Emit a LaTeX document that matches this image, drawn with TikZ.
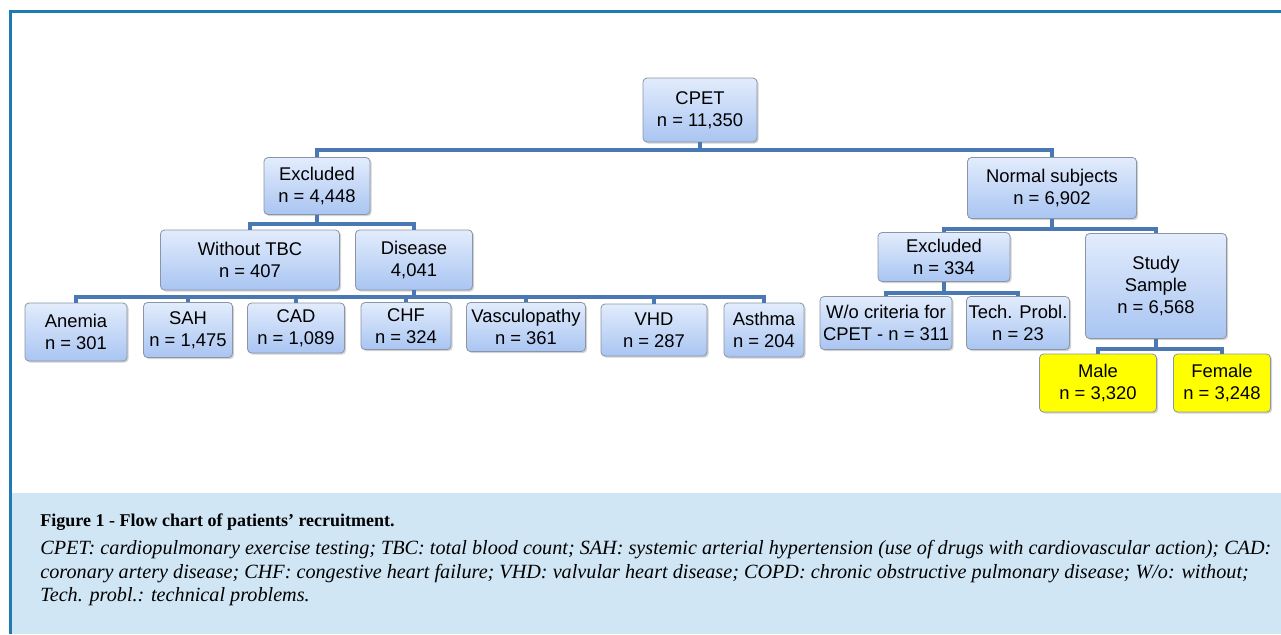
\documentclass[tikz,border=0pt]{standalone}
\usepackage{fontspec}
\setmainfont{Liberation Serif}
\setsansfont{Liberation Sans}
\usetikzlibrary{shadows}

\definecolor{frameblue}{HTML}{1F7AB0}
\definecolor{capbg}{HTML}{D0E6F5}
\definecolor{linkblue}{HTML}{4A78B2}
\definecolor{boxtop}{HTML}{E2ECFC}
\definecolor{boxbot}{HTML}{A9C5F2}
\definecolor{boxline}{HTML}{8A95A5}
\definecolor{hiyellow}{HTML}{FFFF00}

\begin{document}
\begin{tikzpicture}[x=0.5pt,y=-0.5pt,
                box/.style={draw=boxline,rounded corners=2pt,top color=boxtop,bottom color=boxbot,
                  drop shadow={opacity=0.35,shadow xshift=0.8pt,shadow yshift=-0.8pt},
                  align=center,inner sep=1pt,font=\sffamily\fontsize{9.2}{11}\selectfont},
                hi box/.style={box,top color=hiyellow,bottom color=hiyellow},
                boxsize/.style 2 args={minimum width=#1*0.5pt,minimum height=#2*0.5pt},
                link/.style={draw=linkblue,line width=2pt}]

  \useasboundingbox (0,0) rectangle (1281,634);

  % frame and caption area
  \fill[capbg] (11,493) rectangle (1281,634);
  \draw[frameblue,line width=1.5pt] (10,634) -- (10,11) -- (1281,11);

  % top of the tree
  \node[box,boxsize={114}{64}] (cpet) at (700,110) {CPET\\n = 11,350};
  \node[box,boxsize={106}{57}] (excl) at (317,186) {Excluded\\n = 4,448};
  \node[box,boxsize={169}{61}] (norm) at (1052,188) {Normal subjects\\n = 6,902};

  % excluded branch
  \node[box,boxsize={179}{60}] (wotbc) at (250,260) {Without TBC\\n = 407};
  \node[box,boxsize={117}{60}] (dis) at (414,260) {Disease\\4,041};
  \node[box,boxsize={102}{58}] (anem) at (76,332) {Anemia\\n = 301};
  \node[box,boxsize={89}{55}] (sah) at (188,330) {SAH\\n = 1,475};
  \node[box,boxsize={97}{50}] (cad) at (296,328) {CAD\\n = 1,089};
  \node[box,boxsize={90}{47}] (chf) at (406,326) {CHF\\n = 324};
  \node[box,boxsize={119}{49}] (vasc) at (526,327) {Vasculopathy\\n = 361};
  \node[box,boxsize={106}{52}] (vhd) at (654,330) {VHD\\n = 287};
  \node[box,boxsize={80}{54}] (asth) at (764,330) {Asthma\\n = 204};

  % normal subjects branch
  \node[box,boxsize={132}{49}] (excr) at (944,257) {Excluded\\n = 334};
  \node[box,boxsize={141}{105}] (study) at (1156,286) {Study\\Sample\\n = 6,568};
  \node[box,boxsize={132}{53}] (wocrit) at (886,323) {W/o criteria for\\CPET - n = 311};
  \node[box,boxsize={102}{53}] (tech) at (1018,323) {Tech. Probl.\\n = 23};
  \node[hi box,boxsize={117}{58}] (male) at (1098,383) {Male\\n = 3,320};
  \node[hi box,boxsize={97}{58}] (fem) at (1222,383) {Female\\n = 3,248};

  % connectors
  \draw[link] (cpet.south) -- ++(0,8) coordinate (t1);
  \draw[link] (excl.north) |- (t1) -| (norm.north);
  \draw[link] (excl.south) -- ++(0,9) coordinate (t2);
  \draw[link] (wotbc.north) |- (t2) -| (dis.north);
  \draw[link] (dis.south) -- ++(0,7) coordinate (t3);
  \draw[link] (anem.north) |- (t3) -| (asth.north);
  \foreach \n in {sah,cad,chf,vasc,vhd}
    \draw[link] (\n.north) -- (\n.north |- t3);
  \draw[link] (norm.south) -- ++(0,10) coordinate (t4);
  \draw[link] (excr.north) |- (t4) -| (study.north);
  \draw[link] (excr.south) -- ++(0,11) coordinate (t5);
  \draw[link] (wocrit.north) |- (t5) -| (tech.north);
  \draw[link] (study.south) -- ++(0,10) coordinate (t6);
  \draw[link] (male.north) |- (t6) -| (fem.north);

  % caption
  \node[anchor=west,inner sep=0pt,font=\bfseries\fontsize{9}{11}\selectfont] (captitle) at (40,522)
    {Figure 1 - Flow chart of patients’ recruitment.};
  \node[anchor=north west,inner sep=0pt,align=left,font=\itshape\fontsize{10.1}{11.7}\selectfont] (captext) at (40,540)
    {CPET: cardiopulmonary exercise testing; TBC: total blood count; SAH: systemic arterial hypertension (use of drugs with cardiovascular action); CAD:\\
     coronary artery disease; CHF: congestive heart failure; VHD: valvular heart disease; COPD: chronic obstructive pulmonary disease; W/o: without;\\
     Tech. probl.: technical problems.};
\end{tikzpicture}
\end{document}
